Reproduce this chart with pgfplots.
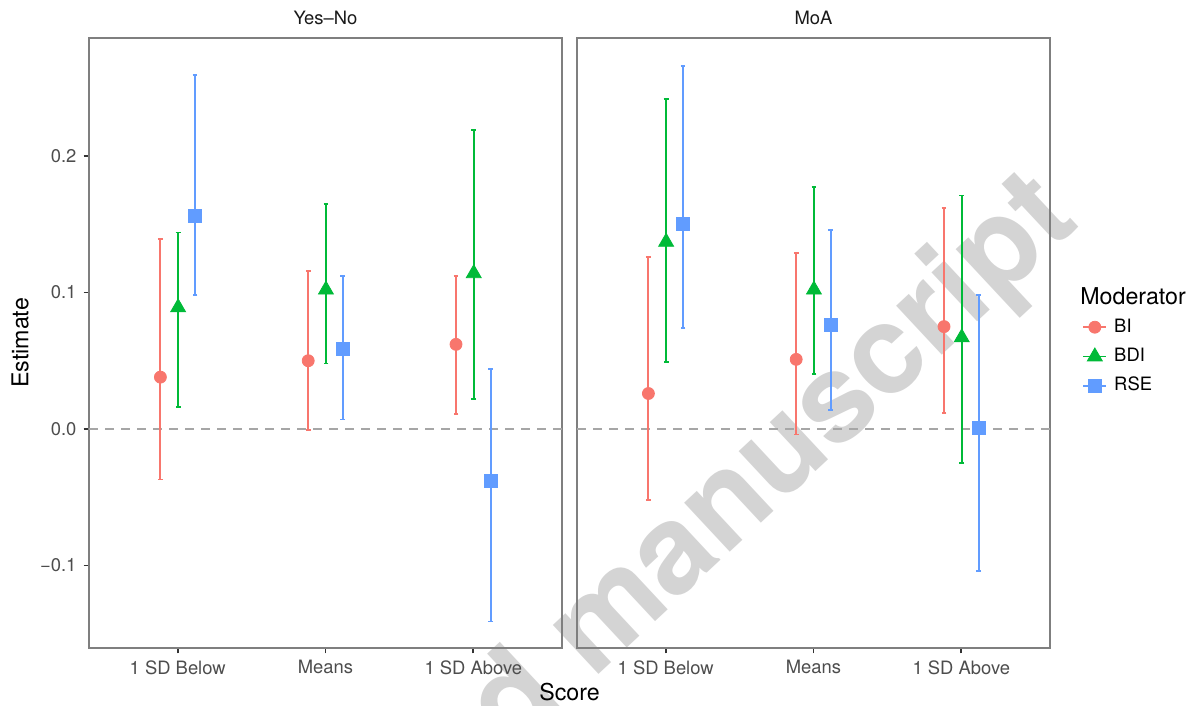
\documentclass[border=0pt]{standalone}
\usepackage{pgfplots}
\pgfplotsset{compat=1.18}
\usepackage{pgfplotstable}
\usepackage{fontspec}
\setmainfont{TeX Gyre Heros}

\definecolor{cBI}{HTML}{F8766D}
\definecolor{cBDI}{HTML}{00BA38}
\definecolor{cRSE}{HTML}{619CFF}
\definecolor{frame}{HTML}{7F7F7F}
\definecolor{ticktext}{HTML}{4D4D4D}
\definecolor{striptext}{HTML}{1A1A1A}
\definecolor{zeroline}{HTML}{A6A6A6}

% cat: 1 = 1 SD Below, 2 = Means, 3 = 1 SD Above
\pgfplotstableread{
cat y lo hi
1 0.038 -0.037 0.139
2 0.050 -0.001 0.116
3 0.062 0.011 0.112
}\ynBI
\pgfplotstableread{
cat y lo hi
1 0.089 0.016 0.144
2 0.102 0.048 0.165
3 0.114 0.022 0.219
}\ynBDI
\pgfplotstableread{
cat y lo hi
1 0.156 0.098 0.259
2 0.059 0.007 0.112
3 -0.038 -0.141 0.044
}\ynRSE
\pgfplotstableread{
cat y lo hi
1 0.026 -0.052 0.126
2 0.051 -0.004 0.129
3 0.075 0.012 0.162
}\moaBI
\pgfplotstableread{
cat y lo hi
1 0.137 0.049 0.242
2 0.102 0.040 0.177
3 0.067 -0.025 0.171
}\moaBDI
\pgfplotstableread{
cat y lo hi
1 0.150 0.074 0.266
2 0.076 0.014 0.146
3 0.001 -0.104 0.098
}\moaRSE

\pgfplotsset{
  panel/.style={
    scale only axis, width=236.5pt, height=305pt, anchor=south west,
    xmin=0.4, xmax=3.6, ymin=-0.1604, ymax=0.2864,
    xtick={1,2,3}, xticklabels={1 SD Below, Means, 1 SD Above},
    xtick pos=bottom, ytick pos=left,
    tick align=outside, major tick length=2.75pt,
    tick style={color=black!80, line width=0.9pt},
    axis line style={frame, line width=0.9pt},
    ticklabel style={font=\fontsize{9.2}{11}\selectfont, color=ticktext},
  },
  est/.style={only marks,
    error bars/.cd, y dir=both, y explicit,
    error bar style={line width=0.9pt},
    error mark options={rotate=90, mark size=1.2pt, line width=0.9pt},
    /pgfplots/.cd},
  table/dodge/.style={x expr=\thisrow{cat}+#1, y=y,
    y error plus expr=\thisrow{hi}-\thisrow{y},
    y error minus expr=\thisrow{y}-\thisrow{lo}},
  zero/.style={zeroline, line width=0.75pt, dash pattern=on 4.5pt off 3.5pt, forget plot},
}

\begin{document}
\begin{tikzpicture}
\useasboundingbox (0,0) rectangle (597.5pt,353pt);

% watermark
\node[rotate=43, anchor=base east, text=black!17, inner sep=0pt,
  font=\fontsize{62}{62}\bfseries\selectfont] at (541pt,241pt) {Accepted manuscript};

\begin{axis}[panel, at={(44.5pt,29pt)},
  ytick={-0.1,0,0.1,0.2}, yticklabels={−0.1,0.0,0.1,0.2}]
  \addplot[zero] coordinates {(0.4,0) (3.6,0)};
  \addplot[color=cBI, mark=*, mark size=3pt, est] table[dodge=-0.117] {\ynBI};
  \addplot[color=cBDI, mark=triangle*, mark size=4.3pt, est] table[dodge=0.003] {\ynBDI};
  \addplot[color=cRSE, mark=square*, mark size=3.25pt, est] table[dodge=0.117] {\ynRSE};
\end{axis}

\begin{axis}[panel, at={(288.5pt,29pt)}, ytick=\empty,
  legend style={at={(1.0677,0.4777)}, anchor=west, draw=none, fill=none,
    inner sep=0pt, row sep=4.7pt, column sep=2.5pt,
    nodes={inner sep=1pt, text height=6.5pt, text depth=1.5pt},
    font=\fontsize{9.2}{11}\selectfont},
  legend cell align=left,
  legend image code/.code={\draw[mark repeat=2, mark phase=2, #1]
    plot coordinates {(0pt,0pt) (5.75pt,0pt) (11.5pt,0pt)};}]
  \addplot[zero] coordinates {(0.4,0) (3.6,0)};
  \addplot[forget plot, color=cBI, mark=*, mark size=3pt, est] table[dodge=-0.117] {\moaBI};
  \addplot[forget plot, color=cBDI, mark=triangle*, mark size=4.3pt, est] table[dodge=0.003] {\moaBDI};
  \addplot[forget plot, color=cRSE, mark=square*, mark size=3.25pt, est] table[dodge=0.117] {\moaRSE};
  \addlegendimage{cBI, line width=0.9pt, mark=*, mark size=3pt, mark options={line width=0.4pt}}
  \addlegendentry{BI}
  \addlegendimage{cBDI, line width=0.9pt, mark=triangle*, mark size=4.3pt, mark options={line width=0.4pt}}
  \addlegendentry{BDI}
  \addlegendimage{cRSE, line width=0.9pt, mark=square*, mark size=3.25pt, mark options={line width=0.4pt}}
  \addlegendentry{RSE}
\end{axis}

% facet strips
\node[anchor=base, inner sep=0pt, text=striptext, font=\fontsize{9.2}{11}\selectfont]
  at (162.75pt,340.5pt) {Yes–No};
\node[anchor=base, inner sep=0pt, text=striptext, font=\fontsize{9.2}{11}\selectfont]
  at (406.75pt,340.5pt) {MoA};

\node[anchor=west, inner sep=0pt, font=\fontsize{11.6}{13}\selectfont] at (540pt,205pt) {Moderator};
\node[font=\fontsize{11.6}{13}\selectfont] at (284.75pt,7pt) {Score};
\node[rotate=90, font=\fontsize{11.6}{13}\selectfont] at (10pt,181.5pt) {Estimate};
\end{tikzpicture}
\end{document}
